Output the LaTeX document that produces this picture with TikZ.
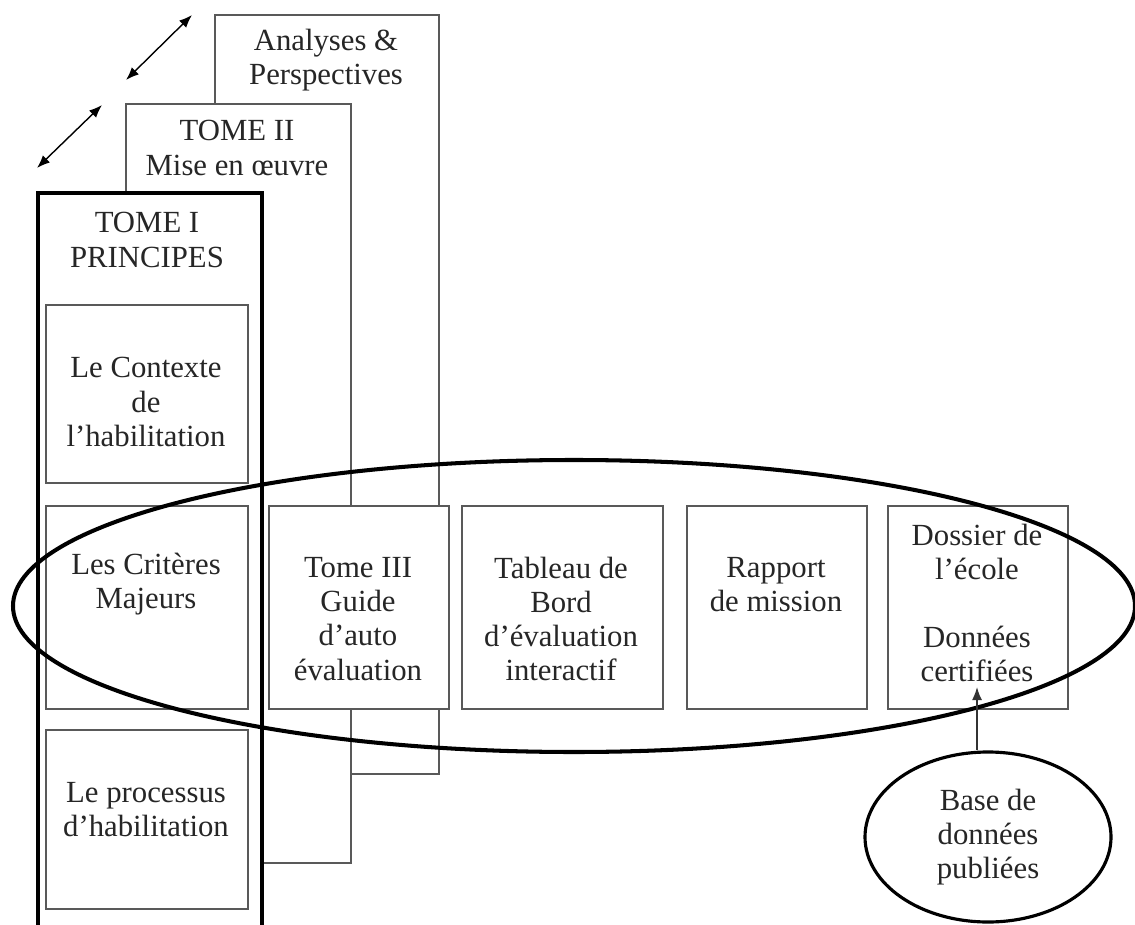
\documentclass[tikz,border=0pt]{standalone}
\usepackage{fontspec}
\setmainfont{Liberation Serif}
\usetikzlibrary{arrows.meta,shapes.geometric}
\newlength\pxl
\setlength\pxl{0.02cm}
\begin{document}
\begin{tikzpicture}[x=0.02cm,y=-0.02cm,
  thinbox/.style={draw=black!65, line width=1pt, fill=white, rectangle, inner sep=0pt, anchor=north west},
  thickbox/.style={draw=black, line width=2.3pt, fill=white, rectangle, inner sep=0pt, anchor=north west},
  lbl/.style={align=center, font=\fontsize{17.5pt}{19.4pt}\selectfont, text=black!85, inner sep=0pt},
  ring/.style={draw=black, line width=2.3pt, ellipse, inner sep=0pt},
  dbl/.style={{Latex[length=0.26cm,width=0.2cm]}-{Latex[length=0.26cm,width=0.2cm]}, line width=0.8pt},
  uparrow/.style={-{Latex[length=0.26cm,width=0.2cm]}, line width=0.9pt, draw=black!80}]
\useasboundingbox (0,0) rectangle (1135,925);
\clip (0,0) rectangle (1135,925);
% stacked volumes
\node[thinbox, minimum width=224\pxl, minimum height=759\pxl] (ana) at (214,14) {};
\node[thinbox, minimum width=225\pxl, minimum height=759\pxl] (t2) at (125,103) {};
\node[thickbox, minimum width=224\pxl, minimum height=780\pxl] (t1) at (36,191) {};
\node[lbl] (anaL) at (326,60) {Analyses \&\\Perspectives};
\node[lbl] (t2L) at (237,148) {TOME II\\Mise en œuvre};
\node[lbl] (t1L) at (147,240) {TOME I\\PRINCIPES};
% inner boxes of tome I
\node[thinbox, minimum width=202\pxl, minimum height=178\pxl] (ctx) at (45,304) {};
\node[thinbox, minimum width=202\pxl, minimum height=203\pxl] (crit) at (45,505) {};
\node[thinbox, minimum width=202\pxl, minimum height=179\pxl] (proc) at (45,729) {};
\node[lbl] (ctxL) at (146,402) {Le Contexte\\de\\l’habilitation};
\node[lbl] (critL) at (146,584) {Les Critères\\Majeurs};
\node[lbl] (procL) at (146,810) {Le processus\\d’habilitation};
% row of documents
\node[thinbox, minimum width=180\pxl, minimum height=203\pxl] (t3) at (268,505) {};
\node[thinbox, minimum width=201\pxl, minimum height=203\pxl] (tab) at (461,505) {};
\node[thinbox, minimum width=180\pxl, minimum height=203\pxl] (rap) at (686,505) {};
\node[thinbox, minimum width=180\pxl, minimum height=203\pxl] (dos) at (887,505) {};
\node[lbl] (t3L) at (358,619) {Tome III\\Guide\\d’auto\\évaluation};
\node[lbl] (tabL) at (561,619) {Tableau de\\Bord\\d’évaluation\\interactif};
\node[lbl] (rapL) at (776,585) {Rapport\\de mission};
\node[lbl] (dosL) at (977,603) {Dossier de\\l’école\\[19.4pt]Données\\certifiées};
% big ellipse
\node[ring, minimum width=1122\pxl, minimum height=292\pxl] (big) at (574,606) {};
% database ellipse
\node[ring, line width=1.8pt, minimum width=246\pxl, minimum height=170\pxl, align=center,
      font=\fontsize{17.5pt}{19.4pt}\selectfont, text=black!85] (base) at (988,837) {Base de\\données\\publiées};
\coordinate (tip) at (977,687);
\draw[uparrow] (tip |- base.north) -- (tip);
% double arrows
\coordinate (a1) at (37,168);
\coordinate (a2) at (102,105);
\coordinate (a3) at (126,80);
\coordinate (a4) at (192,15);
\draw[dbl] (a1) -- (a2);
\draw[dbl] (a3) -- (a4);
\end{tikzpicture}
\end{document}
